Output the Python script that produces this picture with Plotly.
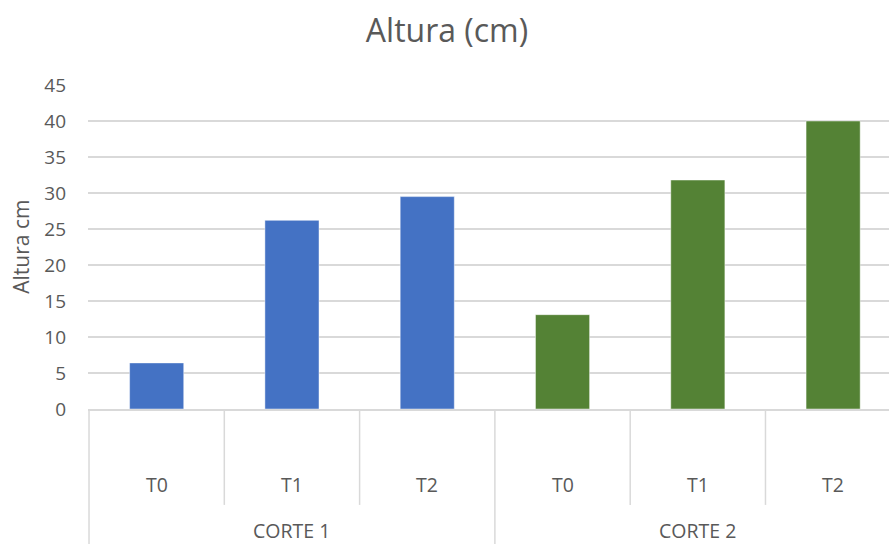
import plotly.graph_objects as go

# Plant height per harvest (corte) and treatment
grupos = ["CORTE 1", "CORTE 2"]
tratamientos = ["T0", "T1", "T2"]
altura_corte1 = [6.4, 26.2, 29.5]
altura_corte2 = [13.1, 31.8, 40.0]
y_ticks = [0, 5, 10, 15, 20, 25, 30, 35, 40, 45]

azul = "#4472C4"
verde = "#548235"
gris_texto = "#595959"
gris_linea = "#d9d9d9"

n = len(tratamientos)
x1 = list(range(n))
x2 = list(range(n, 2 * n))

fig = go.Figure()
fig.add_trace(go.Bar(
    x=x1, y=altura_corte1, width=0.4,
    marker=dict(color=azul, line=dict(color="rgba(255,255,255,0.45)", width=1)),
    name=grupos[0],
))
fig.add_trace(go.Bar(
    x=x2, y=altura_corte2, width=0.4,
    marker=dict(color=verde, line=dict(color="rgba(255,255,255,0.45)", width=1)),
    name=grupos[1],
))

# two-level category labels below the axis
annotations = []
for g, grupo in enumerate(grupos):
    for t, trat in enumerate(tratamientos):
        annotations.append(dict(
            x=g * n + t, y=-0.2315, xref="x", yref="paper",
            text=trat, showarrow=False, xanchor="center", yanchor="middle",
            font=dict(size=19.5, color=gris_texto),
        ))
    annotations.append(dict(
        x=g * n + (n - 1) / 2, y=-0.3765, xref="x", yref="paper",
        text=grupo, showarrow=False, xanchor="center", yanchor="middle",
        font=dict(size=19.5, color=gris_texto),
    ))

# y-axis title
annotations.append(dict(
    x=-0.084, y=0.5, xref="paper", yref="paper", text="Altura cm",
    textangle=-90, showarrow=False, xanchor="center", yanchor="middle",
    font=dict(size=21, color=gris_texto),
))

# category separators: short between treatments, long between groups
shapes = []
for k in range(2 * n + 1):
    xb = k - 0.5
    largo = (k % n == 0)
    shapes.append(dict(
        type="line", xref="x", yref="paper",
        x0=xb, x1=xb, y0=0, y1=-0.45 if largo else -0.296,
        line=dict(color=gris_linea, width=1.5),
    ))

fig.update_layout(
    width=889, height=544,
    margin=dict(l=88, r=0, t=85, b=135),
    paper_bgcolor="white", plot_bgcolor="white",
    font=dict(family="Open Sans", color=gris_texto),
    title=dict(text="Altura (cm)", x=447 / 889, xanchor="center",
               y=1 - 31 / 544, yanchor="middle",
               font=dict(size=32, color=gris_texto)),
    barmode="overlay",
    showlegend=False,
    xaxis=dict(range=[-0.5075, 5.413], showticklabels=False, showgrid=False,
               zeroline=False, showline=True, linecolor=gris_linea, linewidth=1.5),
    yaxis=dict(range=[0, 45], tickvals=y_ticks, gridcolor=gris_linea, gridwidth=1.5,
               zeroline=False, showline=False, ticks="", ticklabelstandoff=21,
               tickfont=dict(size=19, color=gris_texto)),
    annotations=annotations,
    shapes=shapes,
)

fig.write_html("out.html")
